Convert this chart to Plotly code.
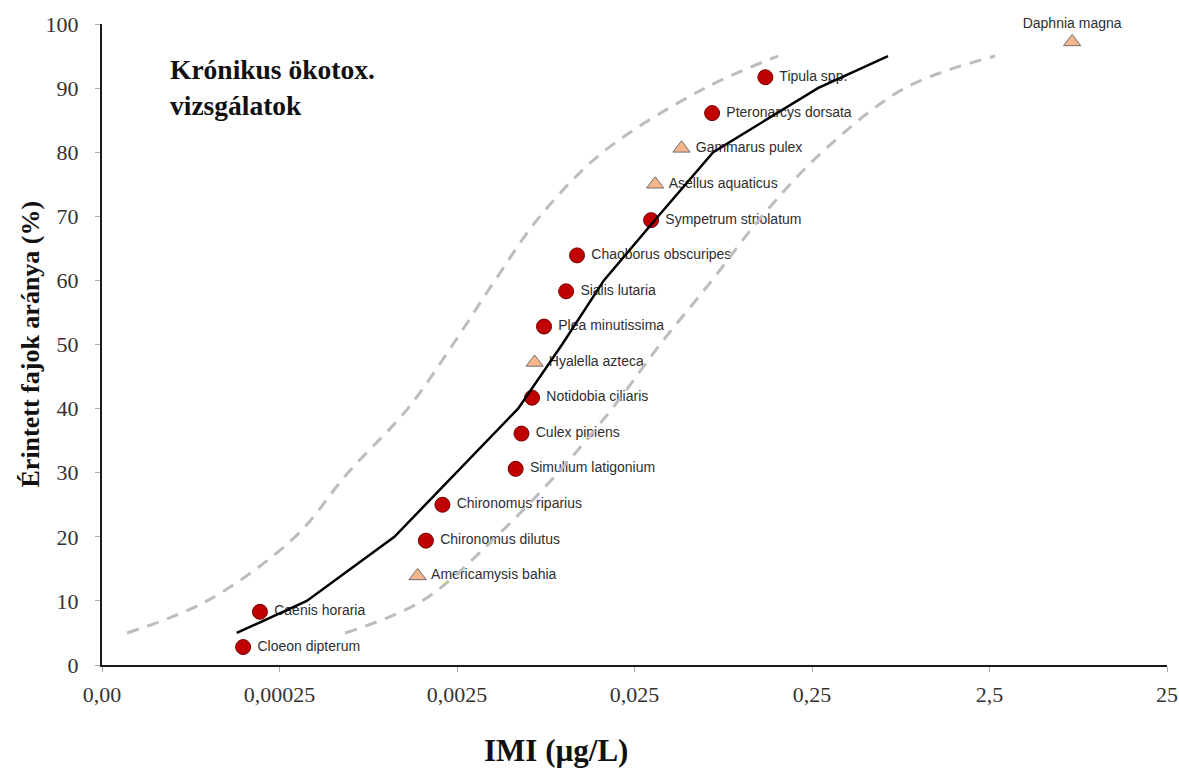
import plotly.graph_objects as go

# ---- data ----
species = ["Cloeon dipterum", "Caenis horaria", "Americamysis bahia", "Chironomus dilutus",
           "Chironomus riparius", "Simulium latigonium", "Culex pipiens", "Notidobia ciliaris",
           "Hyalella azteca", "Plea minutissima", "Sialis lutaria", "Chaoborus obscuripes",
           "Sympetrum striolatum", "Asellus aquaticus", "Gammarus pulex", "Pteronarcys dorsata",
           "Tipula spp.", "Daphnia magna"]
conc = [0.000156, 0.000194, 0.00150, 0.00167, 0.00207, 0.00535, 0.00577, 0.00662,
        0.00684, 0.00773, 0.0103, 0.01186, 0.0310, 0.0327, 0.0460, 0.0684, 0.1365, 7.3]
pct = [2.8, 8.3, 13.9, 19.4, 25.0, 30.6, 36.1, 41.7, 47.2, 52.8, 58.3, 63.9,
       69.4, 75.0, 80.6, 86.1, 91.7, 97.2]
group = ["insect", "insect", "crustacean", "insect", "insect", "insect", "insect", "insect",
         "crustacean", "insect", "insect", "insect", "insect", "crustacean", "crustacean",
         "insect", "insect", "crustacean"]

# fitted SSD curve
fit_pct = [5, 10, 20, 30, 40, 50, 60, 70, 80, 90, 95]
fit_conc = [1.436e-4, 3.56e-4, 1.11e-3, 2.47e-3, 5.52e-3, 9.77e-3, 1.68e-2, 3.40e-2, 6.94e-2, 0.270, 0.670]

# confidence bounds
ci_pct = [5, 10, 20, 30, 40, 50, 60, 70, 80, 90, 95]
ci_upper_conc = [3.46e-5, 9.76e-5, 3.06e-4, 6.08e-4, 1.32e-3, 2.37e-3, 4.09e-3, 7.34e-3, 1.66e-2, 6.24e-2, 0.161]
ci_lower_conc = [5.85e-4, 1.59e-3, 4.15e-3, 9.27e-3, 1.87e-2, 3.48e-2, 6.83e-2, 0.1307, 0.2847, 0.835, 2.69]

x_tickvals = [0.000025, 0.00025, 0.0025, 0.025, 0.25, 2.5, 25]
x_ticktext = ["0,00", "0,00025", "0,0025", "0,025", "0,25", "2,5", "25"]
y_tickvals = [0, 10, 20, 30, 40, 50, 60, 70, 80, 90, 100]

title_text = "Krónikus ökotox.<br>vizsgálatok"
x_title = "IMI (µg/L)"
y_title = "Érintett fajok aránya (%)"

W, H = 1179, 769
L, T = 102, 24                # plot left / top
PW, PH = 1065, 641            # plot width / height

fig = go.Figure()

for g, sym, fill, edge, msize in [("insect", "circle", "#C00000", "#7a0000", 15),
                                  ("crustacean", "triangle-up", "#F4B68A", "#6e6e6e", 15)]:
    xs = [c for c, gg in zip(conc, group) if gg == g]
    ys = [p for p, gg in zip(pct, group) if gg == g]
    ts = [s for s, gg in zip(species, group) if gg == g]
    pos = ["top center" if s == "Daphnia magna" else "middle right" for s in ts]
    fig.add_trace(go.Scatter(
        x=xs, y=ys, text=[" " + t if p == "middle right" else t for t, p in zip(ts, pos)],
        mode="markers+text", textposition=pos,
        textfont=dict(family="Liberation Sans, Arial", size=14, color="#2e2e2e"),
        marker=dict(symbol=sym, size=msize, color=fill, line=dict(color=edge, width=1)),
        cliponaxis=False, hoverinfo="skip"))

fig.add_trace(go.Scatter(x=ci_upper_conc, y=ci_pct, mode="lines",
                         line=dict(color="#BDBDBD", width=3, dash="12px,9px", shape="spline"),
                         hoverinfo="skip"))
fig.add_trace(go.Scatter(x=ci_lower_conc, y=ci_pct, mode="lines",
                         line=dict(color="#BDBDBD", width=3, dash="12px,9px", shape="spline"),
                         hoverinfo="skip"))
fig.add_trace(go.Scatter(x=fit_conc, y=fit_pct, mode="lines",
                         line=dict(color="#000000", width=2.5), hoverinfo="skip"))

fig.update_layout(
    width=W, height=H,
    margin=dict(l=L, r=W - L - PW, t=T, b=H - T - PH, autoexpand=False),
    paper_bgcolor="white", plot_bgcolor="white",
    showlegend=False,
    font=dict(family="Liberation Serif, Times New Roman", color="#333333"),
    xaxis=dict(type="log", range=[-4.60206, 1.39794], tickvals=x_tickvals, ticktext=x_ticktext,
               automargin=False,
               showgrid=False, zeroline=False, showline=True, linecolor="#1a1a1a", linewidth=2,
               ticks="outside", ticklen=5, tickcolor="#aaaaaa", tickwidth=1,
               ticklabelstandoff=4,
               tickfont=dict(family="Liberation Serif, Times New Roman", size=22, color="#333333")),
    yaxis=dict(range=[0, 100], tickvals=y_tickvals, showgrid=False, zeroline=False,
               automargin=False,
               showline=True, linecolor="#1a1a1a", linewidth=2,
               ticks="outside", ticklen=5, tickcolor="#aaaaaa", tickwidth=1,
               ticklabelstandoff=12,
               tickfont=dict(family="Liberation Serif, Times New Roman", size=22, color="#333333")),
    annotations=[
        dict(text="<b>" + title_text + "</b>", xref="paper", yref="paper",
             x=(168 - 102) / PW, y=1 - (52 - 24) / PH, xanchor="left", yanchor="top",
             align="left", showarrow=False,
             font=dict(family="Liberation Serif, Times New Roman", size=27.5, color="#111111")),
        dict(text="<b>" + x_title + "</b>", xref="paper", yref="paper",
             x=(556 - 102) / PW, y=-(750 - 665) / PH, xanchor="center", yanchor="middle",
             showarrow=False,
             font=dict(family="Liberation Serif, Times New Roman", size=31, color="#111111")),
        dict(text="<b>" + y_title + "</b>", xref="paper", yref="paper",
             x=-(102 - 30) / PW, y=0.5, xanchor="center", yanchor="middle", textangle=-90,
             showarrow=False,
             font=dict(family="Liberation Serif, Times New Roman", size=26, color="#111111")),
    ],
)

fig.write_html("out.html", config={"displayModeBar": False},
               post_script="document.body.style.margin='0';document.body.style.overflow='hidden';")
